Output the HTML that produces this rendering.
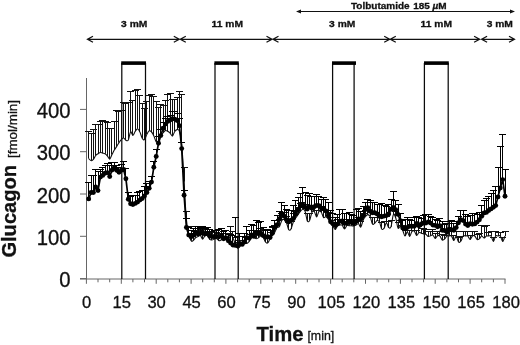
<!DOCTYPE html>
<html><head><meta charset="utf-8"><title>Glucagon</title>
<style>html,body{margin:0;padding:0;background:#fff}body{width:520px;height:345px;overflow:hidden}</style>
</head><body>
<svg width="520" height="345" viewBox="0 0 520 345" style="display:block">
<rect width="520" height="345" fill="#fff"/>
<g stroke="#666" stroke-width="1" fill="none">
<path d="M86.5 78V279.5"/>
<path d="M80 279H505.5"/>
<path d="M80 278.6H86.5M80 236.3H86.5M80 194H86.5M80 151.7H86.5M80 109.4H86.5"/>
<path d="M86.4 279V283.8M98 279V282.3M109.7 279V282.3M121.3 279V283.8M132.9 279V282.3M144.5 279V282.3M156.2 279V283.8M167.8 279V282.3M179.4 279V282.3M191.1 279V283.8M202.7 279V282.3M214.3 279V282.3M225.9 279V283.8M237.6 279V282.3M249.2 279V282.3M260.8 279V283.8M272.4 279V282.3M284.1 279V282.3M295.7 279V283.8M307.3 279V282.3M319 279V282.3M330.6 279V283.8M342.2 279V282.3M353.8 279V282.3M365.5 279V283.8M377.1 279V282.3M388.7 279V282.3M400.4 279V283.8M412 279V282.3M423.6 279V282.3M435.2 279V283.8M446.9 279V282.3M458.5 279V282.3M470.1 279V283.8M481.7 279V282.3M493.4 279V282.3M505 279V283.8"/>
</g>
<g stroke="#0a0a0a" stroke-width="1.25" fill="none">
<path d="M121.8 279V63M145.5 279V63"/>
<path d="M215 279V63M238.2 279V63"/>
<path d="M332.6 279V63M354.1 279V63"/>
<path d="M424.4 279V63M448.2 279V63"/>
</g>
<g fill="#000">
<rect x="121.2" y="61.3" width="24.8" height="3.6"/>
<rect x="214.4" y="61.3" width="24.4" height="3.6"/>
<rect x="332" y="61.3" width="24" height="3.6"/>
<rect x="424" y="61.3" width="24.8" height="3.6"/>
</g>
<path d="M88.5 158.6V131.5M85 131.5H92M91.5 160.7V133.5M88 133.5H95M93.5 159.3V129.5M90 129.5H97M95.5 155.5V124.5M92 124.5H99M98.5 153.7V124.5M95 124.5H102M100.5 152.5V121.5M97 121.5H104M102.5 153.1V120.5M99 120.5H106M105.5 153.7V121.5M102 121.5H109M107.5 155.9V122.5M104 122.5H111M109.5 159.1V128.5M106 128.5H113M111.5 154.6V128.5M108 128.5H115M114.5 150V121.5M111 121.5H118M116.5 146.6V110.5M113 110.5H120M118.5 142.7V111.5M115 111.5H122M121.5 139.7V110.5M118 110.5H125M123.5 138V102.5M120 102.5H127M125.5 140.2V103.5M122 103.5H129M128.5 140V102.5M125 102.5H132M130.5 131.9V91.5M127 91.5H134M132.5 135.4V100.5M129 100.5H136M135.5 131.3V90.5M132 90.5H139M137.5 128.7V89.5M134 89.5H141M139.5 131.9V95.5M136 95.5H143M142.5 138.3V103.5M139 103.5H146M144.5 139.6V108.5M141 108.5H148M146.5 134.3V101.5M143 101.5H150M149.5 130.7V95.5M146 95.5H153M151.5 132V94.5M148 94.5H155M153.5 135.7V96.5M150 96.5H157M156.5 141.8V101.5M153 101.5H160M158.5 140.6V107.5M155 107.5H162M160.5 135.4V104.5M157 104.5H164M163.5 132.9V105.5M160 105.5H167M165.5 130.5V100.5M162 100.5H169M167.5 131.3V94.5M164 94.5H171M170.5 133.2V93.5M167 93.5H174M172.5 136.1V99.5M169 99.5H176M174.5 131.5V99.5M171 99.5H178M177.5 129.6V97.5M174 97.5H181M179.5 131.4V91.5M176 91.5H183M181.5 143.7V94.5M178 94.5H185M184.5 181.5V167.5M181 167.5H188M186.5 219.6V211.5M183 211.5H190M188.5 233.2V226.5M185 226.5H192M191.5 240.8V234.5M188 234.5H195M193.5 240.4V233.5M190 233.5H197M195.5 237.6V231.5M192 231.5H199M198.5 236.5V230.5M195 230.5H202M200.5 235.5V229.5M197 229.5H204M202.5 239.1V232.5M199 232.5H206M205.5 235.5V228.5M202 228.5H209M207.5 235.7V229.5M204 229.5H211M209.5 239.4V233.5M206 233.5H213M211.5 240V232.5M208 232.5H215M214.5 238.9V232.5M211 232.5H218M216.5 238.6V232.5M213 232.5H220M218.5 240.7V233.5M215 233.5H222M221.5 239.8V233.5M218 233.5H225M223.5 238V231.5M220 231.5H227M225.5 238V230.5M222 230.5H229M228.5 240.9V233.5M225 233.5H232M230.5 234.6V226.5M227 226.5H234M232.5 237.8V231.5M229 231.5H236M235.5 243.7V237.5M232 237.5H239M237.5 248.1V242.5M234 242.5H241M239.5 246.7V240.5M236 240.5H243M242.5 243.4V236.5M239 236.5H246M244.5 242.6V236.5M241 236.5H248M246.5 243.5V237.5M243 237.5H250M249.5 241.4V234.5M246 234.5H253M251.5 237.6V230.5M248 230.5H255M253.5 237V230.5M250 230.5H257M256.5 238.7V231.5M253 231.5H260M258.5 237.8V230.5M255 230.5H262M260.5 235.9V228.5M257 228.5H264M263.5 237.1V229.5M260 229.5H267M265.5 242V235.5M262 235.5H269M267.5 242.9V235.5M264 235.5H271M270.5 238.5V232.5M267 232.5H274M272.5 235.4V227.5M269 227.5H276M274.5 232.3V225.5M271 225.5H278M277.5 227.5V220.5M274 220.5H281M279.5 226.7V219.5M276 219.5H283M281.5 220.6V213.5M278 213.5H285M284.5 219.6V212.5M281 212.5H288M286.5 222.5V216.5M283 216.5H290M288.5 229.7V222.5M285 222.5H292M291.5 229V221.5M288 221.5H295M293.5 221.7V213.5M290 213.5H297M295.5 218V211.5M292 211.5H299M298.5 214.6V207.5M295 207.5H302M300.5 211.3V203.5M297 203.5H304M302.5 209.5V202.5M299 202.5H306M305.5 211V204.5M302 204.5H309M307.5 221V213.5M304 213.5H311M309.5 220.2V213.5M306 213.5H313M311.5 212.2V205.5M308 205.5H315M314.5 211.7V205.5M311 205.5H318M316.5 217V210.5M313 210.5H320M318.5 211.4V205.5M315 205.5H322M321.5 212.2V206.5M318 206.5H325M323.5 217.5V210.5M320 210.5H327M325.5 216.7V210.5M322 210.5H329M328.5 219.1V212.5M325 212.5H332M330.5 223.6V217.5M327 217.5H334M332.5 225.9V220.5M329 220.5H336M335.5 229.5V222.5M332 222.5H339M337.5 225.8V219.5M334 219.5H341M339.5 225V219.5M336 219.5H343M342.5 225.2V219.5M339 219.5H346M344.5 229V223.5M341 223.5H348M346.5 225.5V219.5M343 219.5H350M349.5 225.7V220.5M346 220.5H353M351.5 225.8V219.5M348 219.5H355M353.5 226V220.5M350 220.5H357M356.5 224.9V219.5M353 219.5H360M358.5 223.8V217.5M355 217.5H362M360.5 227V221.5M357 221.5H364M363.5 220.2V213.5M360 213.5H367M365.5 216.5V210.5M362 210.5H369M367.5 214.6V207.5M364 207.5H371M370.5 216.5V211.5M367 211.5H374M372.5 224V217.5M369 217.5H376M374.5 223.2V217.5M371 217.5H378M377.5 220.5V214.5M374 214.5H381M379.5 221.7V215.5M376 215.5H383M381.5 229V222.5M378 222.5H385M384.5 228.2V221.5M381 221.5H388M386.5 222.9V216.5M383 216.5H390M388.5 227.5V221.5M385 221.5H392M391.5 226.7V220.5M388 220.5H395M393.5 214.5V209.5M390 209.5H397M395.5 217.8V211.5M392 211.5H399M398.5 228V222.5M395 222.5H402M400.5 226.3V220.5M397 220.5H404M402.5 230.3V225.5M399 225.5H406M405.5 236V230.5M402 230.5H409M407.5 231.8V226.5M404 226.5H411M409.5 236.5V230.5M406 230.5H413M411.5 231.3V225.5M408 225.5H415M414.5 231.1V225.5M411 225.5H418M416.5 235.5V230.5M413 230.5H420M418.5 232.5V226.5M415 226.5H422M421.5 233.2V228.5M418 228.5H425M423.5 233.9V228.5M420 228.5H427M425.5 234.2V229.5M422 229.5H429M428.5 236.5V231.5M425 231.5H432M430.5 235.7V231.5M427 231.5H434M432.5 235.1V229.5M429 229.5H436M435.5 238.5V233.5M432 233.5H439M437.5 235.7V231.5M434 231.5H441M439.5 236V231.5M436 231.5H443M442.5 240V234.5M439 234.5H446M444.5 239.2V235.5M441 235.5H448M446.5 236V231.5M443 231.5H450M449.5 236V231.5M446 231.5H453M451.5 236V231.5M448 231.5H455M453.5 240.5V235.5M450 235.5H457M456.5 236V231.5M453 231.5H460M458.5 242V237.5M455 237.5H462M460.5 241.2V236.5M457 236.5H464M463.5 236V231.5M460 231.5H467M465.5 236V231.5M462 231.5H469M467.5 236V231.5M464 231.5H471M470.5 239.5V235.5M467 235.5H474M472.5 236V231.5M469 231.5H476M474.5 236V231.5M471 231.5H478M477.5 239.5V234.5M474 234.5H481M479.5 238.7V233.5M476 233.5H483M481.5 236V225.5M478 225.5H485M484.5 238V226.5M481 226.5H488M486.5 236V225.5M483 225.5H490M488.5 236V232.5M485 232.5H492M491.5 236V231.5M488 231.5H495M493.5 241.5V237.5M490 237.5H497M495.5 236V231.5M492 231.5H499M498.5 236V232.5M495 232.5H502M500.5 236V232.5M497 232.5H504M502.5 241.5V237.5M499 237.5H506M505.5 236V231.5M502 231.5H509" stroke="#111" stroke-width="1" fill="none"/>
<path d="M88.7 158.6C89.1 159 90.3 160.6 91.1 160.7C91.8 160.8 92.6 160.1 93.4 159.3C94.2 158.4 94.9 156.4 95.7 155.5C96.5 154.6 97.3 154.2 98 153.7C98.8 153.2 99.6 152.6 100.4 152.5C101.1 152.4 101.9 152.9 102.7 153.1C103.5 153.3 104.2 153.3 105 153.7C105.8 154.2 106.6 155 107.3 155.9C108.1 156.8 108.9 159.3 109.7 159.1C110.4 158.9 111.2 156.1 112 154.6C112.8 153.1 113.5 151.4 114.3 150C115.1 148.7 115.9 147.8 116.6 146.6C117.4 145.3 118.2 143.9 119 142.7C119.7 141.6 120.5 140.5 121.3 139.7C122.1 138.9 122.8 137.9 123.6 138C124.4 138.1 125.2 139.9 125.9 140.2C126.7 140.6 127.5 141.4 128.3 140C129 138.7 129.8 132.7 130.6 131.9C131.4 131.1 132.1 135.5 132.9 135.4C133.7 135.3 134.5 132.4 135.2 131.3C136 130.2 136.8 128.7 137.6 128.7C138.3 128.8 139.1 130.3 139.9 131.9C140.7 133.4 141.4 137 142.2 138.3C143 139.6 143.8 140.3 144.5 139.6C145.3 139 146.1 135.8 146.9 134.3C147.6 132.8 148.4 131.1 149.2 130.7C150 130.3 150.7 131.1 151.5 132C152.3 132.8 153.1 134.1 153.8 135.7C154.6 137.4 155.4 141 156.2 141.8C156.9 142.6 157.7 141.7 158.5 140.6C159.3 139.6 160 136.7 160.8 135.4C161.6 134.1 162.4 133.7 163.1 132.9C163.9 132 164.7 130.8 165.5 130.5C166.2 130.3 167 130.9 167.8 131.3C168.6 131.8 169.3 132.4 170.1 133.2C170.9 134 171.7 136.4 172.4 136.1C173.2 135.8 174 132.5 174.8 131.5C175.5 130.4 176.3 129.6 177.1 129.6C177.9 129.6 178.6 129 179.4 131.4C180.2 133.7 181 135.4 181.7 143.7C182.5 152.1 183.3 168.8 184.1 181.5C184.8 194.1 185.6 211 186.4 219.6C187.2 228.2 187.9 229.6 188.7 233.2C189.5 236.7 190.3 239.6 191.1 240.8C191.8 242 192.6 240.9 193.4 240.4C194.2 239.9 194.9 238.3 195.7 237.6C196.5 237 197.3 236.8 198 236.5C198.8 236.1 199.6 235.1 200.4 235.5C201.1 235.9 201.9 239.1 202.7 239.1C203.5 239.1 204.2 236.1 205 235.5C205.8 234.9 206.6 235 207.3 235.7C208.1 236.3 208.9 238.6 209.7 239.4C210.4 240.1 211.2 240.1 212 240C212.8 240 213.5 239.2 214.3 238.9C215.1 238.7 215.9 238.3 216.6 238.6C217.4 238.8 218.2 240.5 219 240.7C219.7 240.9 220.5 240.2 221.3 239.8C222.1 239.3 222.8 238.3 223.6 238C224.4 237.7 225.2 237.5 225.9 238C226.7 238.5 227.5 241.4 228.3 240.9C229 240.3 229.8 235.1 230.6 234.6C231.4 234 232.1 236.3 232.9 237.8C233.7 239.3 234.5 242 235.2 243.7C236 245.4 236.8 247.6 237.6 248.1C238.3 248.6 239.1 247.5 239.9 246.7C240.7 246 241.4 244.1 242.2 243.4C243 242.7 243.8 242.6 244.5 242.6C245.3 242.6 246.1 243.6 246.9 243.5C247.6 243.3 248.4 242.4 249.2 241.4C250 240.5 250.7 238.4 251.5 237.6C252.3 236.9 253.1 236.9 253.8 237C254.6 237.2 255.4 238.6 256.2 238.7C256.9 238.8 257.7 238.2 258.5 237.8C259.3 237.3 260 236 260.8 235.9C261.6 235.8 262.4 236 263.1 237.1C263.9 238.1 264.7 241.1 265.5 242C266.2 243 267 243.5 267.8 242.9C268.6 242.3 269.3 239.8 270.1 238.5C270.9 237.3 271.7 236.4 272.4 235.4C273.2 234.4 274 233.6 274.8 232.3C275.5 231 276.3 228.5 277.1 227.5C277.9 226.6 278.6 227.8 279.4 226.7C280.2 225.5 281 221.8 281.7 220.6C282.5 219.4 283.3 219.3 284.1 219.6C284.8 219.9 285.6 220.8 286.4 222.5C287.2 224.2 287.9 228.6 288.7 229.7C289.5 230.7 290.3 230.3 291 229C291.8 227.6 292.6 223.5 293.4 221.7C294.1 219.9 294.9 219.2 295.7 218C296.5 216.9 297.3 215.7 298 214.6C298.8 213.4 299.6 212.2 300.4 211.3C301.1 210.5 301.9 209.5 302.7 209.5C303.5 209.4 304.2 209.1 305 211C305.8 212.9 306.6 219.5 307.3 221C308.1 222.5 308.9 221.7 309.7 220.2C310.4 218.7 311.2 213.6 312 212.2C312.8 210.8 313.5 210.9 314.3 211.7C315.1 212.5 315.9 217.1 316.6 217C317.4 216.9 318.2 212.2 319 211.4C319.7 210.6 320.5 211.2 321.3 212.2C322.1 213.3 322.8 216.8 323.6 217.5C324.4 218.2 325.2 216.4 325.9 216.7C326.7 217 327.5 217.9 328.3 219.1C329 220.2 329.8 222.4 330.6 223.6C331.4 224.7 332.1 224.9 332.9 225.9C333.7 226.9 334.5 229.5 335.2 229.5C336 229.5 336.8 226.6 337.6 225.8C338.3 225.1 339.1 225.1 339.9 225C340.7 224.9 341.4 224.5 342.2 225.2C343 225.8 343.8 228.9 344.5 229C345.3 229.1 346.1 226 346.9 225.5C347.6 224.9 348.4 225.6 349.2 225.7C350 225.7 350.7 225.8 351.5 225.8C352.3 225.9 353.1 226.1 353.8 226C354.6 225.8 355.4 225.3 356.2 224.9C356.9 224.5 357.7 223.4 358.5 223.8C359.3 224.1 360 227.6 360.8 227C361.6 226.4 362.4 221.9 363.1 220.2C363.9 218.4 364.7 217.4 365.5 216.5C366.2 215.5 367 214.6 367.8 214.6C368.6 214.6 369.3 214.9 370.1 216.5C370.9 218.1 371.7 222.9 372.4 224C373.2 225.1 374 223.8 374.8 223.2C375.5 222.6 376.3 220.8 377.1 220.5C377.9 220.3 378.6 220.3 379.4 221.7C380.2 223.1 381 227.9 381.7 229C382.5 230.1 383.3 229.2 384.1 228.2C384.8 227.2 385.6 223 386.4 222.9C387.2 222.8 387.9 226.9 388.7 227.5C389.5 228.1 390.3 228.9 391 226.7C391.8 224.5 392.6 216 393.4 214.5C394.1 213 394.9 215.5 395.7 217.8C396.5 220 397.2 226.6 398 228C398.8 229.4 399.6 225.9 400.4 226.3C401.1 226.7 401.9 228.7 402.7 230.3C403.5 232 404.2 235.8 405 236C405.8 236.2 406.6 231.8 407.3 231.8C408.1 231.9 408.9 236.6 409.7 236.5C410.4 236.4 411.2 232.2 412 231.3C412.8 230.4 413.5 230.4 414.3 231.1C415.1 231.8 415.9 235.3 416.6 235.5C417.4 235.7 418.2 232.9 419 232.5C419.7 232.1 420.5 233 421.3 233.2C422.1 233.4 422.8 233.7 423.6 233.9C424.4 234.1 425.2 233.8 425.9 234.2C426.7 234.7 427.5 236.3 428.3 236.5C429 236.7 429.8 235.9 430.6 235.7C431.4 235.5 432.1 234.6 432.9 235.1C433.7 235.6 434.5 238.4 435.2 238.5C436 238.6 436.8 236.1 437.6 235.7C438.3 235.3 439.1 235.3 439.9 236C440.7 236.7 441.4 239.5 442.2 240C443 240.5 443.8 239.9 444.5 239.2C445.3 238.5 446.1 236.5 446.9 236C447.6 235.5 448.4 236 449.2 236C450 236 450.7 235.2 451.5 236C452.3 236.8 453.1 240.5 453.8 240.5C454.6 240.5 455.4 235.8 456.2 236C456.9 236.2 457.7 241.1 458.5 242C459.3 242.9 460 242.2 460.8 241.2C461.6 240.2 462.4 236.9 463.1 236C463.9 235.1 464.7 236 465.5 236C466.2 236 467 235.4 467.8 236C468.6 236.6 469.3 239.5 470.1 239.5C470.9 239.5 471.7 236.6 472.4 236C473.2 235.4 474 235.4 474.8 236C475.5 236.6 476.3 239.1 477.1 239.5C477.9 239.9 478.6 239.3 479.4 238.7C480.2 238.1 481 236.1 481.7 236C482.5 235.9 483.3 238 484.1 238C484.8 238 485.6 236.3 486.4 236C487.2 235.7 487.9 236 488.7 236C489.5 236 490.3 235.1 491 236C491.8 236.9 492.6 241.5 493.4 241.5C494.1 241.5 494.9 236.9 495.7 236C496.5 235.1 497.2 236 498 236C498.8 236 499.6 235.1 500.3 236C501.1 236.9 501.9 241.5 502.7 241.5C503.4 241.5 504.6 236.9 505 236" stroke="#111" stroke-width="1.1" fill="none"/>
<path d="M88.5 198.9V182.5M85 182.5H92M91.5 192.5V175.5M88 175.5H95M93.5 192.5V175.5M90 175.5H97M95.5 187V169.5M92 169.5H99M98.5 190.6V171.5M95 171.5H102M100.5 177.1V169.5M97 169.5H104M102.5 175.4V167.5M99 167.5H106M105.5 173.2V165.5M102 165.5H109M107.5 172.6V163.5M104 163.5H111M109.5 176.6V165.5M106 165.5H113M111.5 170.1V162.5M108 162.5H115M114.5 167.7V162.5M111 162.5H118M116.5 170.3V165.5M113 165.5H120M118.5 172.3V167.5M115 167.5H122M121.5 170.2V164.5M118 164.5H125M123.5 169.5V161.5M120 161.5H127M125.5 178.7V168.5M122 168.5H129M128.5 199.2V192.5M125 192.5H132M130.5 203.7V196.5M127 196.5H134M132.5 204.6V195.5M129 195.5H136M135.5 203.4V195.5M132 195.5H139M137.5 202.1V192.5M134 192.5H141M139.5 200.1V191.5M136 191.5H143M142.5 198.5V190.5M139 190.5H146M144.5 195.9V186.5M141 186.5H148M146.5 192.6V183.5M143 183.5H150M149.5 188.2V181.5M146 181.5H153M151.5 182.1V176.5M148 176.5H155M153.5 167.3V161.5M150 161.5H157M156.5 156.4V149.5M153 149.5H160M158.5 143.2V136.5M155 136.5H162M160.5 135.6V129.5M157 129.5H164M163.5 128.2V122.5M160 122.5H167M165.5 124.1V118.5M162 118.5H169M167.5 121.4V116.5M164 116.5H171M170.5 120V115.5M167 115.5H174M172.5 118.7V111.5M169 111.5H176M174.5 119.1V111.5M171 111.5H178M177.5 120.5V113.5M174 113.5H181M179.5 125.8V118.5M176 118.5H183M181.5 148.6V142.5M178 142.5H185M184.5 195.3V190.5M181 190.5H188M186.5 227.5V218.5M183 218.5H190M188.5 235.1V227.5M185 227.5H192M191.5 236.8V230.5M188 230.5H195M193.5 235.2V228.5M190 228.5H197M195.5 232.8V226.5M192 226.5H199M198.5 233.9V228.5M195 228.5H202M200.5 233.3V227.5M197 227.5H204M202.5 232.3V226.5M199 226.5H206M205.5 234.1V228.5M202 228.5H209M207.5 233.1V227.5M204 227.5H211M209.5 236.1V229.5M206 229.5H213M211.5 236.5V231.5M208 231.5H215M214.5 236.8V230.5M211 230.5H218M216.5 236.5V230.5M213 230.5H220M218.5 236.8V229.5M215 229.5H222M221.5 235.8V228.5M218 228.5H225M223.5 238.7V231.5M220 231.5H227M225.5 237.8V230.5M222 230.5H229M228.5 240.7V234.5M225 234.5H232M230.5 243V234.5M227 234.5H234M232.5 245V235.5M229 235.5H236M235.5 245.4V217.5M232 217.5H239M237.5 245.7V236.5M234 236.5H241M239.5 243.4V233.5M236 233.5H243M242.5 244.4V236.5M239 236.5H246M244.5 242V233.5M241 233.5H248M246.5 237.6V226.5M243 226.5H250M249.5 238.2V230.5M246 230.5H253M251.5 234.9V224.5M248 224.5H255M253.5 236.4V225.5M250 225.5H257M256.5 232.7V220.5M253 220.5H260M258.5 233.8V222.5M255 222.5H262M260.5 233.3V221.5M257 221.5H264M263.5 235.6V227.5M260 227.5H267M265.5 237.2V230.5M262 230.5H269M267.5 236.6V229.5M264 229.5H271M270.5 237.6V230.5M267 230.5H274M272.5 233.2V226.5M269 226.5H276M274.5 227.6V220.5M271 220.5H278M277.5 224.8V215.5M274 215.5H281M279.5 218.6V211.5M276 211.5H283M281.5 213.6V202.5M278 202.5H285M284.5 216.3V205.5M281 205.5H288M286.5 219.7V209.5M283 209.5H290M288.5 221.9V210.5M285 210.5H292M291.5 220.1V210.5M288 210.5H295M293.5 218.4V205.5M290 205.5H297M295.5 213.9V200.5M292 200.5H299M298.5 210V197.5M295 197.5H302M300.5 206.1V193.5M297 193.5H304M302.5 204.4V187.5M299 187.5H306M305.5 207.2V192.5M302 192.5H309M307.5 209V195.5M304 195.5H311M309.5 207V193.5M306 193.5H313M311.5 208.3V196.5M308 196.5H315M314.5 206.7V196.5M311 196.5H318M316.5 205.5V194.5M313 194.5H320M318.5 205.7V196.5M315 196.5H322M321.5 208.1V199.5M318 199.5H325M323.5 208.5V197.5M320 197.5H327M325.5 211V199.5M322 199.5H329M328.5 215.4V202.5M325 202.5H332M330.5 221.8V210.5M327 210.5H334M332.5 223.8V213.5M329 213.5H336M335.5 225.6V217.5M332 217.5H339M337.5 224.1V214.5M334 214.5H341M339.5 221.3V209.5M336 209.5H343M342.5 221V209.5M339 209.5H346M344.5 223.4V213.5M341 213.5H348M346.5 223.3V213.5M343 213.5H350M349.5 221.4V212.5M346 212.5H353M351.5 222.6V214.5M348 214.5H355M353.5 223.6V215.5M350 215.5H357M356.5 221.2V209.5M353 209.5H360M358.5 219V208.5M355 208.5H362M360.5 219V211.5M357 211.5H364M363.5 215.7V206.5M360 206.5H367M365.5 209.6V202.5M362 202.5H369M367.5 207.6V199.5M364 199.5H371M370.5 211.2V200.5M367 200.5H374M372.5 212.7V202.5M369 202.5H376M374.5 212.8V202.5M371 202.5H378M377.5 213.9V204.5M374 204.5H381M379.5 216.2V204.5M376 204.5H383M381.5 216.8V203.5M378 203.5H385M384.5 216.1V205.5M381 205.5H388M386.5 215.6V206.5M383 206.5H390M388.5 213.9V204.5M385 204.5H392M391.5 209.2V199.5M388 199.5H395M393.5 207.5V191.5M390 191.5H397M395.5 209.8V200.5M392 200.5H399M398.5 214.4V204.5M395 204.5H402M400.5 220.6V213.5M397 213.5H404M402.5 228V220.5M399 220.5H406M405.5 228.7V219.5M402 219.5H409M407.5 227.4V217.5M404 217.5H411M409.5 226.3V219.5M406 219.5H413M411.5 226.3V220.5M408 220.5H415M414.5 226.2V217.5M411 217.5H418M416.5 223.5V216.5M413 216.5H420M418.5 225.8V217.5M415 217.5H422M421.5 224V218.5M418 218.5H425M423.5 223V215.5M420 215.5H427M425.5 223.1V214.5M422 214.5H429M428.5 221.9V214.5M425 214.5H432M430.5 223.1V216.5M427 216.5H434M432.5 225.1V217.5M429 217.5H436M435.5 225.4V219.5M432 219.5H439M437.5 226.8V220.5M434 220.5H441M439.5 225.7V218.5M436 218.5H443M442.5 230.2V221.5M439 221.5H446M444.5 230.5V224.5M441 224.5H448M446.5 232V223.5M443 223.5H450M449.5 229.1V221.5M446 221.5H453M451.5 229.8V220.5M448 220.5H455M453.5 230.3V223.5M450 223.5H457M456.5 227.6V221.5M453 221.5H460M458.5 222.8V216.5M455 216.5H462M460.5 219.7V210.5M457 210.5H464M463.5 220.6V210.5M460 210.5H467M465.5 224.1V214.5M462 214.5H469M467.5 225.6V216.5M464 216.5H471M470.5 223.7V215.5M467 215.5H474M472.5 224.3V213.5M469 213.5H476M474.5 223.9V213.5M471 213.5H478M477.5 222.1V214.5M474 214.5H481M479.5 219.8V212.5M476 212.5H483M481.5 216.3V205.5M478 205.5H485M484.5 213V200.5M481 200.5H488M486.5 212.4V198.5M483 198.5H490M488.5 210.5V196.5M485 196.5H492M491.5 208.9V193.5M488 193.5H495M493.5 207.3V190.5M490 190.5H497M495.5 205.6V186.5M492 186.5H499M498.5 196.9V167.5M495 167.5H502M500.5 188V146.5M497 146.5H504M502.5 179.6V134.5M499 134.5H506M505.5 196.2V169.5M502 169.5H509" stroke="#000" stroke-width="1" fill="none"/>
<path d="M88.7 198.9 L91.1 192.5 L93.4 192.5 L95.7 187 L98 190.6 L100.4 177.1 L102.7 175.4 L105 173.2 L107.3 172.6 L109.7 176.6 L112 170.1 L114.3 167.7 L116.6 170.3 L119 172.3 L121.3 170.2 L123.6 169.5 L125.9 178.7 L128.3 199.2 L130.6 203.7 L132.9 204.6 L135.2 203.4 L137.6 202.1 L139.9 200.1 L142.2 198.5 L144.5 195.9 L146.9 192.6 L149.2 188.2 L151.5 182.1 L153.8 167.3 L156.2 156.4 L158.5 143.2 L160.8 135.6 L163.1 128.2 L165.5 124.1 L167.8 121.4 L170.1 120 L172.4 118.7 L174.8 119.1 L177.1 120.5 L179.4 125.8 L181.7 148.6 L184.1 195.3 L186.4 227.5 L188.7 235.1 L191.1 236.8 L193.4 235.2 L195.7 232.8 L198 233.9 L200.4 233.3 L202.7 232.3 L205 234.1 L207.3 233.1 L209.7 236.1 L212 236.5 L214.3 236.8 L216.6 236.5 L219 236.8 L221.3 235.8 L223.6 238.7 L225.9 237.8 L228.3 240.7 L230.6 243 L232.9 245 L235.2 245.4 L237.6 245.7 L239.9 243.4 L242.2 244.4 L244.5 242 L246.9 237.6 L249.2 238.2 L251.5 234.9 L253.8 236.4 L256.2 232.7 L258.5 233.8 L260.8 233.3 L263.1 235.6 L265.5 237.2 L267.8 236.6 L270.1 237.6 L272.4 233.2 L274.8 227.6 L277.1 224.8 L279.4 218.6 L281.7 213.6 L284.1 216.3 L286.4 219.7 L288.7 221.9 L291 220.1 L293.4 218.4 L295.7 213.9 L298 210 L300.4 206.1 L302.7 204.4 L305 207.2 L307.3 209 L309.7 207 L312 208.3 L314.3 206.7 L316.6 205.5 L319 205.7 L321.3 208.1 L323.6 208.5 L325.9 211 L328.3 215.4 L330.6 221.8 L332.9 223.8 L335.2 225.6 L337.6 224.1 L339.9 221.3 L342.2 221 L344.5 223.4 L346.9 223.3 L349.2 221.4 L351.5 222.6 L353.8 223.6 L356.2 221.2 L358.5 219 L360.8 219 L363.1 215.7 L365.5 209.6 L367.8 207.6 L370.1 211.2 L372.4 212.7 L374.8 212.8 L377.1 213.9 L379.4 216.2 L381.7 216.8 L384.1 216.1 L386.4 215.6 L388.7 213.9 L391 209.2 L393.4 207.5 L395.7 209.8 L398 214.4 L400.4 220.6 L402.7 228 L405 228.7 L407.3 227.4 L409.7 226.3 L412 226.3 L414.3 226.2 L416.6 223.5 L419 225.8 L421.3 224 L423.6 223 L425.9 223.1 L428.3 221.9 L430.6 223.1 L432.9 225.1 L435.2 225.4 L437.6 226.8 L439.9 225.7 L442.2 230.2 L444.5 230.5 L446.9 232 L449.2 229.1 L451.5 229.8 L453.8 230.3 L456.2 227.6 L458.5 222.8 L460.8 219.7 L463.1 220.6 L465.5 224.1 L467.8 225.6 L470.1 223.7 L472.4 224.3 L474.8 223.9 L477.1 222.1 L479.4 219.8 L481.7 216.3 L484.1 213 L486.4 212.4 L488.7 210.5 L491 208.9 L493.4 207.3 L495.7 205.6 L498 196.9 L500.3 188 L502.7 179.6 L505 196.2" stroke="#000" stroke-width="1.7" fill="none" stroke-linejoin="round"/>
<g fill="#000">
<circle cx="88.7" cy="198.9" r="2.45"/>
<circle cx="91.1" cy="192.5" r="2.45"/>
<circle cx="93.4" cy="192.5" r="2.45"/>
<circle cx="95.7" cy="187" r="2.45"/>
<circle cx="98" cy="190.6" r="2.45"/>
<circle cx="100.4" cy="177.1" r="2.45"/>
<circle cx="102.7" cy="175.4" r="2.45"/>
<circle cx="105" cy="173.2" r="2.45"/>
<circle cx="107.3" cy="172.6" r="2.45"/>
<circle cx="109.7" cy="176.6" r="2.45"/>
<circle cx="112" cy="170.1" r="2.45"/>
<circle cx="114.3" cy="167.7" r="2.45"/>
<circle cx="116.6" cy="170.3" r="2.45"/>
<circle cx="119" cy="172.3" r="2.45"/>
<circle cx="121.3" cy="170.2" r="2.45"/>
<circle cx="123.6" cy="169.5" r="2.45"/>
<circle cx="125.9" cy="178.7" r="2.45"/>
<circle cx="128.3" cy="199.2" r="2.45"/>
<circle cx="130.6" cy="203.7" r="2.45"/>
<circle cx="132.9" cy="204.6" r="2.45"/>
<circle cx="135.2" cy="203.4" r="2.45"/>
<circle cx="137.6" cy="202.1" r="2.45"/>
<circle cx="139.9" cy="200.1" r="2.45"/>
<circle cx="142.2" cy="198.5" r="2.45"/>
<circle cx="144.5" cy="195.9" r="2.45"/>
<circle cx="146.9" cy="192.6" r="2.45"/>
<circle cx="149.2" cy="188.2" r="2.45"/>
<circle cx="151.5" cy="182.1" r="2.45"/>
<circle cx="153.8" cy="167.3" r="2.45"/>
<circle cx="156.2" cy="156.4" r="2.45"/>
<circle cx="158.5" cy="143.2" r="2.45"/>
<circle cx="160.8" cy="135.6" r="2.45"/>
<circle cx="163.1" cy="128.2" r="2.45"/>
<circle cx="165.5" cy="124.1" r="2.45"/>
<circle cx="167.8" cy="121.4" r="2.45"/>
<circle cx="170.1" cy="120" r="2.45"/>
<circle cx="172.4" cy="118.7" r="2.45"/>
<circle cx="174.8" cy="119.1" r="2.45"/>
<circle cx="177.1" cy="120.5" r="2.45"/>
<circle cx="179.4" cy="125.8" r="2.45"/>
<circle cx="181.7" cy="148.6" r="2.45"/>
<circle cx="184.1" cy="195.3" r="2.45"/>
<circle cx="186.4" cy="227.5" r="2.45"/>
<circle cx="188.7" cy="235.1" r="2.45"/>
<circle cx="191.1" cy="236.8" r="2.45"/>
<circle cx="193.4" cy="235.2" r="2.45"/>
<circle cx="195.7" cy="232.8" r="2.45"/>
<circle cx="198" cy="233.9" r="2.45"/>
<circle cx="200.4" cy="233.3" r="2.45"/>
<circle cx="202.7" cy="232.3" r="2.45"/>
<circle cx="205" cy="234.1" r="2.45"/>
<circle cx="207.3" cy="233.1" r="2.45"/>
<circle cx="209.7" cy="236.1" r="2.45"/>
<circle cx="212" cy="236.5" r="2.45"/>
<circle cx="214.3" cy="236.8" r="2.45"/>
<circle cx="216.6" cy="236.5" r="2.45"/>
<circle cx="219" cy="236.8" r="2.45"/>
<circle cx="221.3" cy="235.8" r="2.45"/>
<circle cx="223.6" cy="238.7" r="2.45"/>
<circle cx="225.9" cy="237.8" r="2.45"/>
<circle cx="228.3" cy="240.7" r="2.45"/>
<circle cx="230.6" cy="243" r="2.45"/>
<circle cx="232.9" cy="245" r="2.45"/>
<circle cx="235.2" cy="245.4" r="2.45"/>
<circle cx="237.6" cy="245.7" r="2.45"/>
<circle cx="239.9" cy="243.4" r="2.45"/>
<circle cx="242.2" cy="244.4" r="2.45"/>
<circle cx="244.5" cy="242" r="2.45"/>
<circle cx="246.9" cy="237.6" r="2.45"/>
<circle cx="249.2" cy="238.2" r="2.45"/>
<circle cx="251.5" cy="234.9" r="2.45"/>
<circle cx="253.8" cy="236.4" r="2.45"/>
<circle cx="256.2" cy="232.7" r="2.45"/>
<circle cx="258.5" cy="233.8" r="2.45"/>
<circle cx="260.8" cy="233.3" r="2.45"/>
<circle cx="263.1" cy="235.6" r="2.45"/>
<circle cx="265.5" cy="237.2" r="2.45"/>
<circle cx="267.8" cy="236.6" r="2.45"/>
<circle cx="270.1" cy="237.6" r="2.45"/>
<circle cx="272.4" cy="233.2" r="2.45"/>
<circle cx="274.8" cy="227.6" r="2.45"/>
<circle cx="277.1" cy="224.8" r="2.45"/>
<circle cx="279.4" cy="218.6" r="2.45"/>
<circle cx="281.7" cy="213.6" r="2.45"/>
<circle cx="284.1" cy="216.3" r="2.45"/>
<circle cx="286.4" cy="219.7" r="2.45"/>
<circle cx="288.7" cy="221.9" r="2.45"/>
<circle cx="291" cy="220.1" r="2.45"/>
<circle cx="293.4" cy="218.4" r="2.45"/>
<circle cx="295.7" cy="213.9" r="2.45"/>
<circle cx="298" cy="210" r="2.45"/>
<circle cx="300.4" cy="206.1" r="2.45"/>
<circle cx="302.7" cy="204.4" r="2.45"/>
<circle cx="305" cy="207.2" r="2.45"/>
<circle cx="307.3" cy="209" r="2.45"/>
<circle cx="309.7" cy="207" r="2.45"/>
<circle cx="312" cy="208.3" r="2.45"/>
<circle cx="314.3" cy="206.7" r="2.45"/>
<circle cx="316.6" cy="205.5" r="2.45"/>
<circle cx="319" cy="205.7" r="2.45"/>
<circle cx="321.3" cy="208.1" r="2.45"/>
<circle cx="323.6" cy="208.5" r="2.45"/>
<circle cx="325.9" cy="211" r="2.45"/>
<circle cx="328.3" cy="215.4" r="2.45"/>
<circle cx="330.6" cy="221.8" r="2.45"/>
<circle cx="332.9" cy="223.8" r="2.45"/>
<circle cx="335.2" cy="225.6" r="2.45"/>
<circle cx="337.6" cy="224.1" r="2.45"/>
<circle cx="339.9" cy="221.3" r="2.45"/>
<circle cx="342.2" cy="221" r="2.45"/>
<circle cx="344.5" cy="223.4" r="2.45"/>
<circle cx="346.9" cy="223.3" r="2.45"/>
<circle cx="349.2" cy="221.4" r="2.45"/>
<circle cx="351.5" cy="222.6" r="2.45"/>
<circle cx="353.8" cy="223.6" r="2.45"/>
<circle cx="356.2" cy="221.2" r="2.45"/>
<circle cx="358.5" cy="219" r="2.45"/>
<circle cx="360.8" cy="219" r="2.45"/>
<circle cx="363.1" cy="215.7" r="2.45"/>
<circle cx="365.5" cy="209.6" r="2.45"/>
<circle cx="367.8" cy="207.6" r="2.45"/>
<circle cx="370.1" cy="211.2" r="2.45"/>
<circle cx="372.4" cy="212.7" r="2.45"/>
<circle cx="374.8" cy="212.8" r="2.45"/>
<circle cx="377.1" cy="213.9" r="2.45"/>
<circle cx="379.4" cy="216.2" r="2.45"/>
<circle cx="381.7" cy="216.8" r="2.45"/>
<circle cx="384.1" cy="216.1" r="2.45"/>
<circle cx="386.4" cy="215.6" r="2.45"/>
<circle cx="388.7" cy="213.9" r="2.45"/>
<circle cx="391" cy="209.2" r="2.45"/>
<circle cx="393.4" cy="207.5" r="2.45"/>
<circle cx="395.7" cy="209.8" r="2.45"/>
<circle cx="398" cy="214.4" r="2.45"/>
<circle cx="400.4" cy="220.6" r="2.45"/>
<circle cx="402.7" cy="228" r="2.45"/>
<circle cx="405" cy="228.7" r="2.45"/>
<circle cx="407.3" cy="227.4" r="2.45"/>
<circle cx="409.7" cy="226.3" r="2.45"/>
<circle cx="412" cy="226.3" r="2.45"/>
<circle cx="414.3" cy="226.2" r="2.45"/>
<circle cx="416.6" cy="223.5" r="2.45"/>
<circle cx="419" cy="225.8" r="2.45"/>
<circle cx="421.3" cy="224" r="2.45"/>
<circle cx="423.6" cy="223" r="2.45"/>
<circle cx="425.9" cy="223.1" r="2.45"/>
<circle cx="428.3" cy="221.9" r="2.45"/>
<circle cx="430.6" cy="223.1" r="2.45"/>
<circle cx="432.9" cy="225.1" r="2.45"/>
<circle cx="435.2" cy="225.4" r="2.45"/>
<circle cx="437.6" cy="226.8" r="2.45"/>
<circle cx="439.9" cy="225.7" r="2.45"/>
<circle cx="442.2" cy="230.2" r="2.45"/>
<circle cx="444.5" cy="230.5" r="2.45"/>
<circle cx="446.9" cy="232" r="2.45"/>
<circle cx="449.2" cy="229.1" r="2.45"/>
<circle cx="451.5" cy="229.8" r="2.45"/>
<circle cx="453.8" cy="230.3" r="2.45"/>
<circle cx="456.2" cy="227.6" r="2.45"/>
<circle cx="458.5" cy="222.8" r="2.45"/>
<circle cx="460.8" cy="219.7" r="2.45"/>
<circle cx="463.1" cy="220.6" r="2.45"/>
<circle cx="465.5" cy="224.1" r="2.45"/>
<circle cx="467.8" cy="225.6" r="2.45"/>
<circle cx="470.1" cy="223.7" r="2.45"/>
<circle cx="472.4" cy="224.3" r="2.45"/>
<circle cx="474.8" cy="223.9" r="2.45"/>
<circle cx="477.1" cy="222.1" r="2.45"/>
<circle cx="479.4" cy="219.8" r="2.45"/>
<circle cx="481.7" cy="216.3" r="2.45"/>
<circle cx="484.1" cy="213" r="2.45"/>
<circle cx="486.4" cy="212.4" r="2.45"/>
<circle cx="488.7" cy="210.5" r="2.45"/>
<circle cx="491" cy="208.9" r="2.45"/>
<circle cx="493.4" cy="207.3" r="2.45"/>
<circle cx="495.7" cy="205.6" r="2.45"/>
<circle cx="498" cy="196.9" r="2.45"/>
<circle cx="500.3" cy="188" r="2.45"/>
<circle cx="502.7" cy="179.6" r="2.45"/>
<circle cx="505" cy="196.2" r="2.45"/>
</g>
<path d="M87.5 39.3H179.3M93 36.3L87.5 39.3L93 42.3M173.8 36.3L179.3 39.3L173.8 42.3M180.3 39.3H272M185.8 36.3L180.3 39.3L185.8 42.3M266.5 36.3L272 39.3L266.5 42.3M273 39.3H389.7M278.5 36.3L273 39.3L278.5 42.3M384.2 36.3L389.7 39.3L384.2 42.3M390.3 39.3H479.6M395.8 36.3L390.3 39.3L395.8 42.3M474.1 36.3L479.6 39.3L474.1 42.3M481.6 39.3H514.5M487.1 36.3L481.6 39.3L487.1 42.3M509 36.3L514.5 39.3L509 42.3" stroke="#111" stroke-width="1.25" fill="none"/>
<path d="M298 11.5H512" stroke="#111" stroke-width="1" fill="none"/>
<path d="M296 11.5L301 9.5V13.5ZM515 11.5L510 9.5V13.5Z" fill="#111"/>
<g font-family="'Liberation Sans',sans-serif" fill="#111" stroke="#111" stroke-width="0.3">
<g font-size="9.7" font-weight="bold" text-anchor="middle">
<text transform="translate(134.2 26.8) scale(1.06 1)">3 mM</text>
<text transform="translate(227.3 26.8) scale(1.06 1)">11 mM</text>
<text transform="translate(342.2 26.8) scale(1.06 1)">3 mM</text>
<text transform="translate(436.3 26.8) scale(1.06 1)">11 mM</text>
<text transform="translate(499.8 26.8) scale(1.06 1)">3 mM</text>
<text transform="translate(351 8.7) scale(1.03 1)" text-anchor="start">Tolbutamide<tspan dx="0.8"> 185 </tspan><tspan font-style="italic">µ</tspan>M</text>
</g>
<g font-size="20.3" text-anchor="end">
<text transform="translate(70.6 287.2) scale(1 1.07)">0</text>
<text transform="translate(70.6 244.9) scale(1 1.07)">100</text>
<text transform="translate(70.6 202.6) scale(1 1.07)">200</text>
<text transform="translate(70.6 160.3) scale(1 1.07)">300</text>
<text transform="translate(70.6 118) scale(1 1.07)">400</text>
</g>
<g font-size="16.6" text-anchor="middle">
<text transform="translate(86.7 307.5) scale(1 1.04)">0</text>
<text transform="translate(121.7 307.5) scale(1 1.04)">15</text>
<text transform="translate(156.6 307.5) scale(1 1.04)">30</text>
<text transform="translate(191.6 307.5) scale(1 1.04)">45</text>
<text transform="translate(226.5 307.5) scale(1 1.04)">60</text>
<text transform="translate(261.5 307.5) scale(1 1.04)">75</text>
<text transform="translate(296.5 307.5) scale(1 1.04)">90</text>
<text transform="translate(331.4 307.5) scale(1 1.04)">105</text>
<text transform="translate(366.4 307.5) scale(1 1.04)">120</text>
<text transform="translate(401.3 307.5) scale(1 1.04)">135</text>
<text transform="translate(436.3 307.5) scale(1 1.04)">150</text>
<text transform="translate(471.2 307.5) scale(1 1.04)">165</text>
<text transform="translate(506.2 307.5) scale(1 1.04)">180</text>
</g>
<text x="256.6" y="340.6" font-size="20.3" font-weight="bold">Time</text>
<text x="307.4" y="340.2" font-size="12.4">[min]</text>
<text transform="translate(15.6 257.6) rotate(-90)" font-size="20.1" font-weight="bold">Glucagon</text>
<text transform="translate(16.7 158) rotate(-90)" font-size="13.4">[fmol/min]</text>
</g>
</svg>
</body></html>
